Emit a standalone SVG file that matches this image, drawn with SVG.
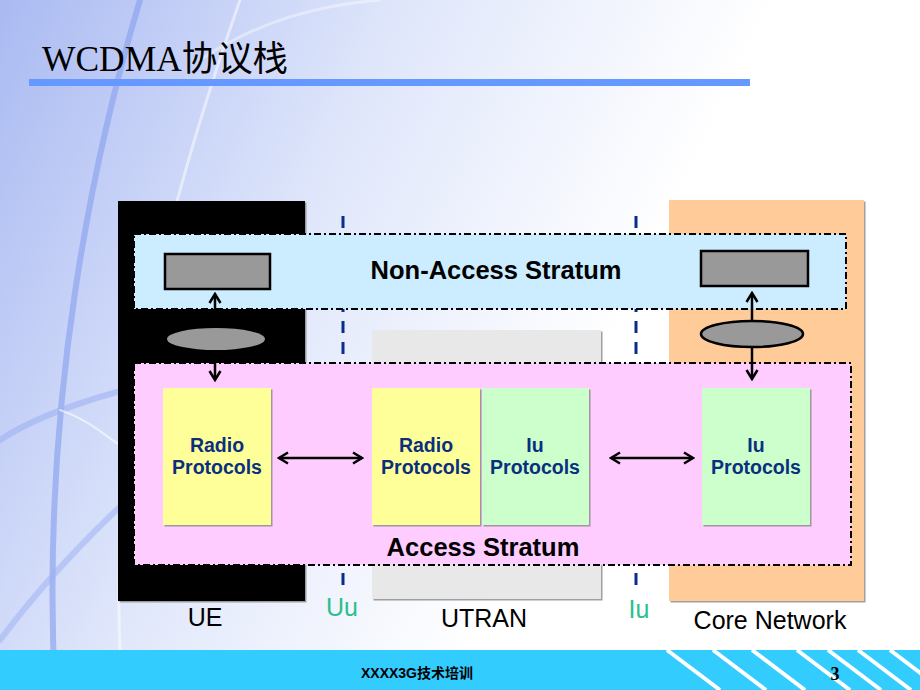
<svg xmlns="http://www.w3.org/2000/svg" width="920" height="690" viewBox="0 0 920 690">
<defs>
<linearGradient id="bg" x1="0" y1="0" x2="1" y2="0.35">
<stop offset="0" stop-color="#AABAF2"/>
<stop offset="0.4" stop-color="#E0E7FB"/>
<stop offset="0.75" stop-color="#FFFFFF"/>
</linearGradient>
<marker id="ah" viewBox="0 0 14 14" refX="12" refY="7" markerWidth="14" markerHeight="14" markerUnits="userSpaceOnUse" orient="auto-start-reverse">
<path d="M3,1.5 L12,7 L3,12.5" fill="none" stroke="#000" stroke-width="2.5"/>
</marker>
<filter id="sh" x="-5%" y="-5%" width="115%" height="115%">
<feDropShadow dx="1.5" dy="1.5" stdDeviation="0.6" flood-color="#888" flood-opacity="0.8"/>
</filter>
</defs>
<style>
.stratum{stroke:#000;stroke-width:2;stroke-dasharray:7,3,2,3}
.lbl{font-family:"Liberation Sans",Arial,sans-serif;font-size:25px;text-anchor:middle}
.big{font-family:"Liberation Sans",Arial,sans-serif;font-size:25.5px;font-weight:bold;text-anchor:middle;fill:#000}
.proto{font-family:"Liberation Sans",Arial,sans-serif;font-size:19.5px;font-weight:bold;text-anchor:middle;fill:#0B2F7F}
.ifc{stroke:#0A2C8C;stroke-width:3;stroke-dasharray:12,9}
.conn{stroke:#000;stroke-width:2.5;fill:none}
</style>
<!-- background -->
<rect x="0" y="0" width="920" height="690" fill="url(#bg)"/>
<g fill="none" stroke-linecap="round">
<path d="M140,0 C95,150 40,400 55,690" stroke="#8FA5F0" stroke-width="6" opacity="0.7"/>
<path d="M240,0 C170,200 110,420 120,650" stroke="#FFFFFF" stroke-width="3" opacity="0.5"/>
<path d="M0,440 C60,400 160,380 300,350" stroke="#9FB3F3" stroke-width="6" opacity="0.6"/>
<path d="M0,640 C60,560 150,470 250,400" stroke="#9FB3F3" stroke-width="6" opacity="0.55"/>
<path d="M60,410 C90,420 110,440 120,445" stroke="#FFFFFF" stroke-width="2" opacity="0.6"/>
<path d="M200,60 C260,20 320,5 380,0" stroke="#FFFFFF" stroke-width="3" opacity="0.4"/>
</g>
<!-- title -->
<text x="42" y="71" font-family="'Liberation Serif','Noto Sans CJK SC',serif" font-size="35" textLength="246" lengthAdjust="spacingAndGlyphs" fill="#000">WCDMA协议栈</text>
<rect x="29" y="79" width="721" height="7" fill="#6699FF"/>

<!-- domains -->
<g id="ue-domain"><rect x="118" y="201" width="187" height="400" fill="#000" filter="url(#sh)"/></g>
<g id="utran-domain"><rect x="372" y="330" width="229" height="269" fill="#E8E8E8" filter="url(#sh)"/></g>
<g id="cn-domain"><rect x="669" y="200" width="195" height="401" fill="#FFCC99" filter="url(#sh)"/></g>

<!-- interface lines -->
<g id="interfaces">
<line class="ifc" x1="343" y1="216" x2="343" y2="592"/>
<line class="ifc" x1="636" y1="216" x2="636" y2="592"/>
</g>

<!-- strata -->
<g id="nas"><rect class="stratum" x="134" y="234" width="712" height="75" fill="#CCECFF"/>
<text class="big" x="496" y="279">Non-Access Stratum</text></g>
<g id="as"><rect class="stratum" x="134" y="363" width="717" height="202" fill="#FFCCFF"/>
<text class="big" x="483" y="556">Access Stratum</text></g>

<!-- connectors -->
<g id="connectors">
<line class="conn" x1="215" y1="294" x2="215" y2="380" marker-start="url(#ah)" marker-end="url(#ah)"/>
<line class="conn" x1="752" y1="293" x2="752" y2="379" marker-start="url(#ah)" marker-end="url(#ah)"/>
<line class="conn" x1="279" y1="458" x2="362" y2="458" marker-start="url(#ah)" marker-end="url(#ah)"/>
<line class="conn" x1="611" y1="458" x2="693" y2="458" marker-start="url(#ah)" marker-end="url(#ah)"/>
</g>

<g id="ue-nas"><rect x="165" y="254" width="105" height="35" fill="#999" stroke="#000" stroke-width="2.5"/></g>
<g id="cn-nas"><rect x="701" y="251" width="107" height="35" fill="#999" stroke="#000" stroke-width="2.5"/></g>
<g id="ue-ellipse"><ellipse cx="216" cy="339" rx="49" ry="11" fill="#999"/></g>
<g id="cn-ellipse"><ellipse cx="752" cy="334" rx="51" ry="13" fill="#999" stroke="#000" stroke-width="2.5"/></g>

<g id="ue-radio"><rect x="163" y="388" width="108" height="137" fill="#FFFF99" filter="url(#sh)"/>
<text class="proto" x="217" y="452">Radio</text><text class="proto" x="217" y="474">Protocols</text></g>
<g id="utran-radio"><rect x="372" y="388" width="108" height="137" fill="#FFFF99" filter="url(#sh)"/>
<text class="proto" x="426" y="452">Radio</text><text class="proto" x="426" y="474">Protocols</text></g>
<g id="utran-iu"><rect x="482" y="388" width="107" height="137" fill="#CCFFCC" filter="url(#sh)"/>
<text class="proto" x="535" y="452">Iu</text><text class="proto" x="535" y="474">Protocols</text></g>
<g id="cn-iu"><rect x="702" y="388" width="108" height="137" fill="#CCFFCC" filter="url(#sh)"/>
<text class="proto" x="756" y="452">Iu</text><text class="proto" x="756" y="474">Protocols</text></g>

<!-- labels -->
<text class="lbl" x="205" y="626" fill="#000">UE</text>
<text class="lbl" x="342" y="616" fill="#2DBE8F">Uu</text>
<text class="lbl" x="484" y="627" fill="#000">UTRAN</text>
<text class="lbl" x="639" y="618" fill="#2DBE8F">Iu</text>
<text class="lbl" x="770" y="629" fill="#000">Core Network</text>

<!-- footer -->
<rect x="0" y="650" width="920" height="40" fill="#33CCFF"/>
<g stroke="#FFFFFF" stroke-width="4">
<line x1="667" y1="650" x2="720" y2="690"/>
<line x1="713" y1="650" x2="766" y2="690"/>
<line x1="752" y1="650" x2="805" y2="690"/>
<line x1="797" y1="650" x2="850" y2="690"/>
<line x1="828" y1="650" x2="881" y2="690"/>
<line x1="858" y1="650" x2="911" y2="690"/>
<line x1="890" y1="650" x2="943" y2="690"/>
</g>
<text x="417" y="678" font-family="'Liberation Sans','Noto Sans CJK SC',sans-serif" font-size="14" font-weight="bold" text-anchor="middle" fill="#000">XXXX3G技术培训</text>
<text x="835" y="680" font-family="'Liberation Serif',serif" font-size="18" font-weight="bold" text-anchor="middle" fill="#000">3</text>
</svg>
